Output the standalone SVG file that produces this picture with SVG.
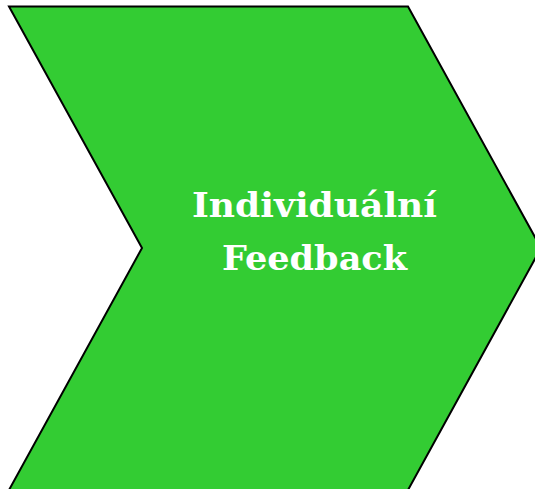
<svg xmlns="http://www.w3.org/2000/svg" width="535" height="489" viewBox="0 0 535 489">
<style>
.shape{fill:#33cc33;stroke:#000;stroke-width:2;stroke-linejoin:miter}
.lbl{font-family:"DejaVu Serif","Liberation Serif",serif;font-weight:bold;font-size:34px;fill:#fff;text-anchor:middle}
</style>
<rect width="535" height="489" fill="#fff"/>
<g id="node-feedback">
<polygon class="shape" points="9,6.5 408,6.5 541,248 408,490 9,490 142,248"/>
<text class="lbl" x="314.5" y="217" textLength="245" lengthAdjust="spacingAndGlyphs">Individuální</text>
<text class="lbl" x="314.5" y="270" textLength="185" lengthAdjust="spacingAndGlyphs">Feedback</text>
</g>
<g id="connectors"/>
</svg>
